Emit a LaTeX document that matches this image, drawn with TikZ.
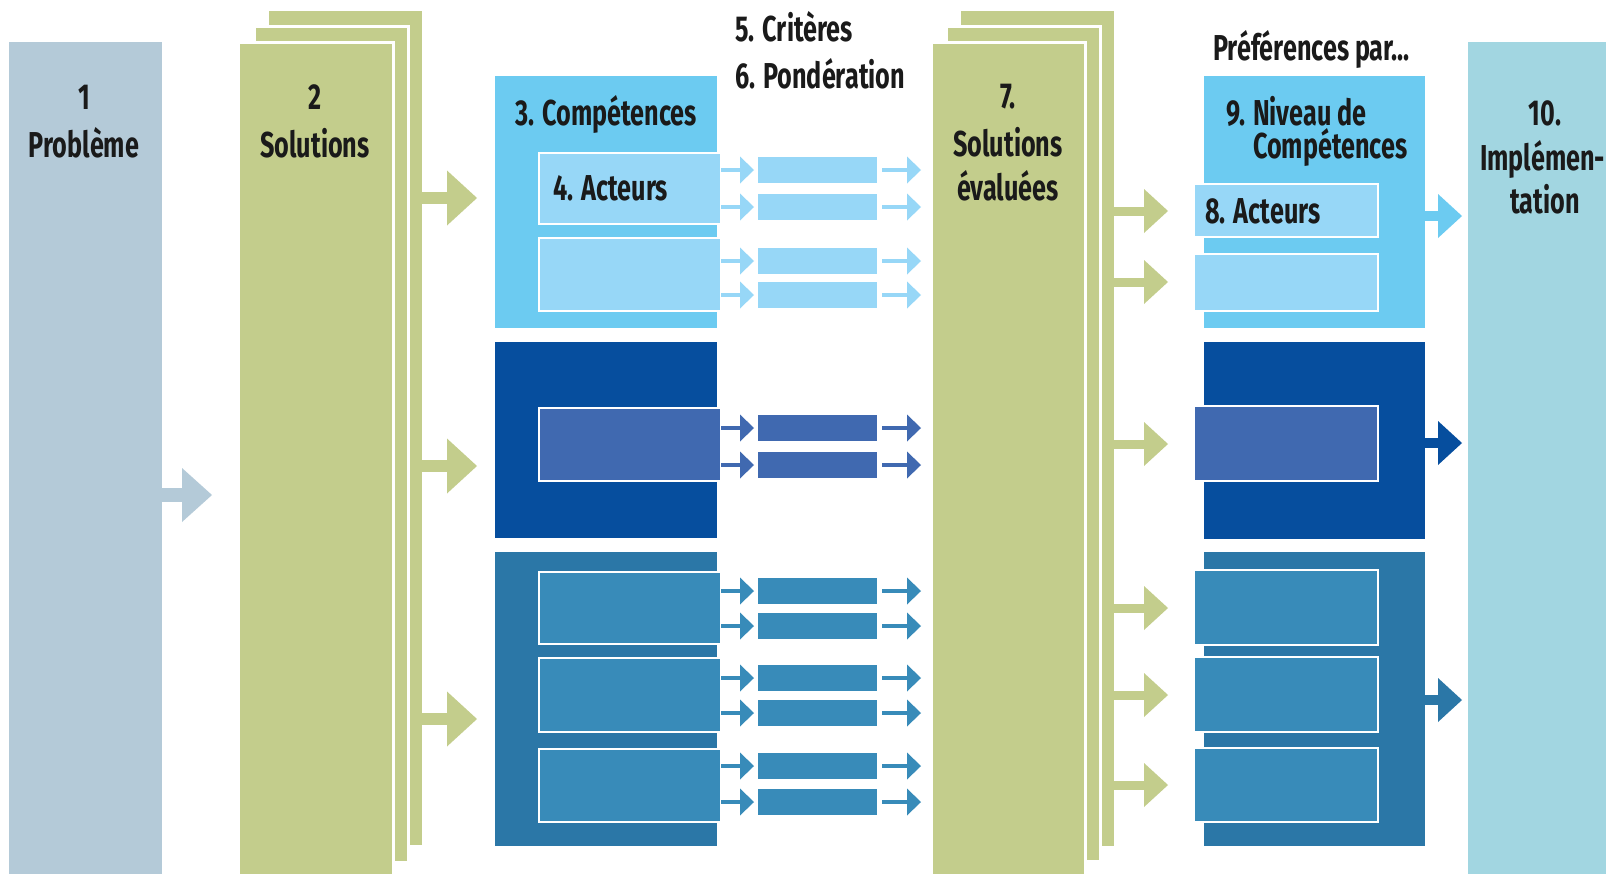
\documentclass[tikz,border=0pt]{standalone}
\usepackage{fontspec}
\newfontfamily\lbl{Fira Sans}[FakeStretch=0.7]
\usetikzlibrary{arrows.meta}
\definecolor{cProb}{HTML}{B4CAD8}
\definecolor{cGreen}{HTML}{C3CD8C}
\definecolor{cImpl}{HTML}{A2D6E1}
\definecolor{cLout}{HTML}{6CCBF1}
\definecolor{cLin}{HTML}{97D7F7}
\definecolor{cDout}{HTML}{064E9E}
\definecolor{cDin}{HTML}{4069B0}
\definecolor{cMout}{HTML}{2B77A7}
\definecolor{cMin}{HTML}{388BB9}
\definecolor{cText}{HTML}{1A1A1A}
\newcommand\bx[6]{\node[#6, minimum width={#4-#2}, minimum height={#5-#3}] (#1) at ({(#2+#4)/2},{(#3+#5)/2}) {};}
\begin{document}
\begin{tikzpicture}[x=1pt,y=-1pt,
  box/.style={rectangle, inner sep=0pt, outer sep=0pt, draw=none},
  page/.style={box, fill=cGreen, draw=white, line width=3pt},
  inbox/.style={box, draw=white, line width=2.5pt},
  txt/.style={inner sep=0pt, text=cText, font=\lbl\bfseries\fontsize{36}{40}\selectfont},
  bigarr/.style={line width=14pt, -{Triangle[length=30pt,width=54pt,line width=0pt]}},
  garr/.style={draw=cGreen, line width=12pt, -{Triangle[length=30pt,width=55pt,line width=0pt]}},
  marr/.style={line width=9pt, -{Triangle[length=24pt,width=44pt,line width=0pt]}},
  sarr/.style={line width=4pt, -{Triangle[length=14pt,width=27pt,line width=0pt]}, shorten >=4pt},
]
\useasboundingbox (0,0) rectangle (1606,873);
\fill[white] (0,0) rectangle (1606,873);

% 1 Probleme
\bx{prob}{9}{42}{162}{880}{box, fill=cProb}
% 2 Solutions (three pages)
\bx{sol3}{269}{11}{422}{845}{box, fill=cGreen}
\bx{sol2}{254}{26}{408}{862}{page}
\bx{sol1}{238}{42}{393}{885}{page}
% 7 Solutions evaluees
\bx{ev3}{961}{11}{1114}{846}{box, fill=cGreen}
\bx{ev2}{946}{26}{1100}{861}{page}
\bx{ev1}{931}{42}{1085}{885}{page}
% 10 Implementation
\bx{impl}{1468}{42}{1615}{880}{box, fill=cImpl}

% left column: competences
\bx{compA}{495}{76}{717}{328}{box, fill=cLout}
\bx{compB}{495}{342}{717}{538}{box, fill=cDout}
\bx{compC}{495}{552}{717}{846}{box, fill=cMout}
\bx{ltA}{539}{153}{721}{224}{inbox, fill=cLin}
\bx{ltB}{539}{238}{721}{311}{inbox, fill=cLin}
\bx{ldA}{539}{408}{721}{481}{inbox, fill=cDin}
\bx{lmA}{539}{572}{721}{644}{inbox, fill=cMin}
\bx{lmB}{539}{658}{721}{732}{inbox, fill=cMin}
\bx{lmC}{539}{749}{721}{822}{inbox, fill=cMin}

% right column: niveau de competences
\bx{nivA}{1204}{76}{1425}{328}{box, fill=cLout}
\bx{nivB}{1204}{342}{1425}{539}{box, fill=cDout}
\bx{nivC}{1204}{552}{1425}{846}{box, fill=cMout}
\bx{rtA}{1194}{184}{1378}{237}{inbox, fill=cLin}
\bx{rtB}{1194}{254}{1378}{311}{inbox, fill=cLin}
\bx{rdA}{1194}{406}{1378}{481}{inbox, fill=cDin}
\bx{rmA}{1194}{570}{1378}{645}{inbox, fill=cMin}
\bx{rmB}{1194}{657}{1378}{732}{inbox, fill=cMin}
\bx{rmC}{1194}{748}{1378}{822}{inbox, fill=cMin}

% criteria rows
\foreach \nm/\yy/\src/\col in {r1/170/ltA/cLin, r2/207/ltA/cLin, r3/261/ltB/cLin, r4/295/ltB/cLin,
  r5/428/ldA/cDin, r6/465/ldA/cDin,
  r7/591/lmA/cMin, r8/626/lmA/cMin, r9/678/lmB/cMin, r10/713/lmB/cMin, r11/766/lmC/cMin, r12/802/lmC/cMin}{
  \node[box, fill=\col, minimum width=119, minimum height=26] (\nm) at (817.5,\yy) {};
  \draw[sarr, draw=\col] (\src.east |- \nm) -- (\nm.west);
  \draw[sarr, draw=\col, shorten <=5pt, shorten >=10pt] (\nm.east) -- (ev1.west |- \nm);
}

% big arrows
\draw[bigarr, draw=cProb, shorten >=26pt] (prob.east |- 0,495) -- (sol1.west |- 0,495);
\draw[garr, shorten >=18pt] (sol3.east |- 0,198) -- (compA.west |- 0,198);
\draw[garr, shorten >=18pt] (sol3.east |- 0,466) -- (compB.west |- 0,466);
\draw[garr, shorten >=18pt] (sol3.east |- 0,719) -- (compC.west |- 0,719);
\foreach \yy/\dst in {211/rtA, 282/rtB, 444/rdA, 608/rmA, 695/rmB, 785/rmC}{
  \draw[marr, draw=cGreen, shorten >=26pt] (ev3.east |- 0,\yy) -- (\dst.west |- 0,\yy);
}
\draw[marr, line width=10pt, draw=cLout, shorten >=6pt] (nivA.east |- 0,216) -- (impl.west |- 0,216);
\draw[marr, line width=10pt, draw=cDout, shorten >=6pt] (nivB.east |- 0,443) -- (impl.west |- 0,443);
\draw[marr, line width=10pt, draw=cMout, shorten >=6pt] (nivC.east |- 0,700) -- (impl.west |- 0,700);

% texts
\node[txt, anchor=base] (t1) at (84,109) {1};
\node[txt, anchor=base] (t1b) at (84,157) {Problème};
\node[txt, anchor=base] (t2) at (315,109) {2};
\node[txt, anchor=base] (t2b) at (315,157) {Solutions};
\node[txt, anchor=base] (t3) at (606,125) {3. Compétences};
\node[txt, anchor=base west] (t4) at (553,200) {4. Acteurs};
\node[txt, anchor=base west] (t5) at (735,41) {5. Critères};
\node[txt, anchor=base west] (t6) at (735,88) {6. Pondération};
\node[txt, anchor=base] (t7) at (1008,108) {7.};
\node[txt, anchor=base] (t7b) at (1008,156) {Solutions};
\node[txt, anchor=base] (t7c) at (1008,200) {évaluées};
\node[txt, anchor=base west] (tp) at (1213,60) {Préférences par...};
\node[txt, anchor=base west] (t9) at (1226,125) {9. Niveau de};
\node[txt, anchor=base west] (t9b) at (1253,158) {Compétences};
\node[txt, anchor=base west] (t8) at (1205,223) {8. Acteurs};
\node[txt, anchor=base] (t10) at (1545,125) {10.};
\node[txt, anchor=base west] (t10b) at (1480,170) {Implémen-};
\node[txt, anchor=base] (t10c) at (1545,213) {tation};
\end{tikzpicture}
\end{document}
